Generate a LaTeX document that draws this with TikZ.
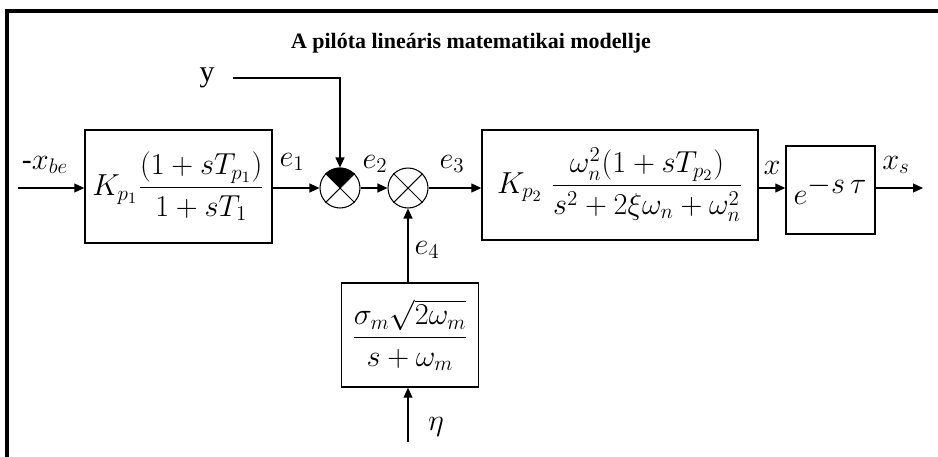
\documentclass[tikz,border=0pt]{standalone}
\usepackage{amsmath}
\usepackage{fontspec}
\setmainfont{Liberation Serif}
\usepackage{tikz}
\usetikzlibrary{arrows.meta,positioning,calc}
\definecolor{ink}{HTML}{000000}
\tikzset{
  blockbox/.style={draw=ink,line width=0.85pt,inner sep=1pt,align=center,
                   font=\fontsize{18}{21}\selectfont},
  sumnode/.style={draw=ink,circle,line width=0.6pt,minimum size=0.8cm,
                  inner sep=0pt},
  siglabel/.style={font=\fontsize{17}{20}\selectfont,inner sep=1pt},
  sigarr/.style={-{Triangle[length=2mm,width=1.8mm]},line width=0.6pt,
                 draw=ink},
  framebox/.style={draw=ink,line width=1.8pt}
}

\begin{document}
\begin{tikzpicture}[x=0.02cm,y=-0.02cm]
    \path[use as bounding box] (0,0) rectangle (938,457);
    \draw[framebox] (7,460) -- (7,11) -- (940,11);
    \node[font=\bfseries\fontsize{12.5}{14}\selectfont] (title) at (471,43)
      {A pilóta lineáris matematikai modellje};
    % blocks
    \node[blockbox,font=\fontsize{18.5}{22}\selectfont,minimum width=3.74cm,
      minimum height=2.26cm] (kp1)
      at (178.5,186.5) {$K_{p_1}\dfrac{(1+sT_{p_1})}{1+sT_1}$};
    \node[blockbox,minimum width=5.52cm,minimum height=2.2cm] (kp2)
      at (620,185)
      {$K_{p_2}\;\dfrac{\omega_n^2(1+sT_{p_2})}{s^2+2\xi\omega_n+\omega_n^2}$};
    \node[blockbox,minimum width=1.78cm,minimum height=1.76cm] (delay)
      at (830.5,190) {$e^{\textstyle -s\,\tau}$};
    \node[blockbox,minimum width=2.74cm,minimum height=2.08cm] (noise)
      at (410,335) {$\dfrac{\sigma_m\sqrt{2\omega_m}}{s+\omega_m}$};
    % summing points
    \node[sumnode] (sum1) at (340,188) {};
    \node[sumnode] (sum2) at (408,188) {};
    \fill[ink] (sum1.center) -- (sum1.135)
      arc[start angle=135,end angle=45,radius=0.4cm] -- cycle;
    \foreach \s in {sum1,sum2}
      \draw[ink,line width=0.6pt] (\s.45) -- (\s.225) (\s.135) -- (\s.315);
    % signals
    \coordinate (xin) at (18,188);
    \coordinate (xout) at (923,188);
    \coordinate (yin) at (233,78);
    \coordinate (etain) at (408,442);
    \draw[sigarr] (xin) -- (xin -| kp1.west);
    \draw[sigarr] (sum1 -| kp1.east) -- (sum1.west);
    \draw[sigarr] (sum1.east) -- (sum2.west);
    \draw[sigarr] (sum2.east) -- (sum2 -| kp2.west);
    \draw[sigarr] (sum2 -| kp2.east) -- (sum2 -| delay.west);
    \draw[sigarr] (xout -| delay.east) -- (xout);
    \draw[sigarr] (yin) -| (sum1.north);
    \draw[sigarr] (sum2 |- noise.north) -- (sum2.south);
    \draw[sigarr] (etain) -- (etain |- noise.south);
    % labels
    \node[siglabel] (ylab) at (207,78) {y};
    \node[siglabel] (xbe) at (45,165) {-$x_{be}$};
    \node[siglabel] (e1) at (292,162) {$e_1$};
    \node[siglabel] (e2) at (375,164) {$e_2$};
    \node[siglabel] (e3) at (452,164) {$e_3$};
    \node[siglabel] (e4) at (427,250) {$e_4$};
    \node[siglabel] (xlab) at (772,168) {$x$};
    \node[siglabel] (xs) at (896,165) {$x_s$};
    \node[siglabel] (eta) at (436,427) {$\eta$};
  \end{tikzpicture}
\end{document}
